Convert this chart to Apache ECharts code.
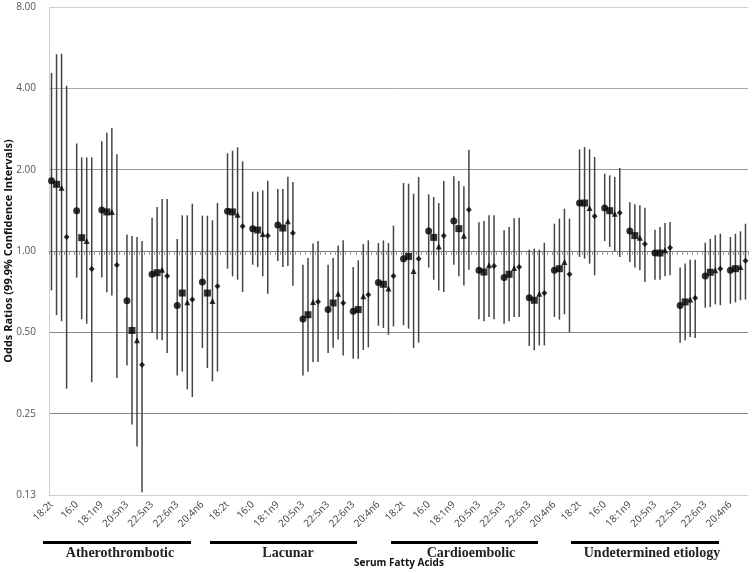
<!DOCTYPE html>
<html>
<head>
<meta charset="utf-8">
<script src="https://cdn.jsdelivr.net/npm/echarts@6/dist/echarts.min.js"></script>
<style>
html,body{margin:0;padding:0;background:#fff;}
#chart{width:752px;height:573px;}
</style>
</head>
<body>
<div id="chart"></div>
<script>
// ---- data ----
const groups = ['Atherothrombotic', 'Lacunar', 'Cardioembolic', 'Undetermined etiology'];
const acids = ['18:2t', '16:0', '18:1n9', '20:5n3', '22:5n3', '22:6n3', '20:4n6'];
const yTicks = [0.125, 0.25, 0.5, 1, 2, 4, 8];

// odds ratios per marker (28 = 4 groups x 7 acids, group order)
const orCircle = [1.82, 1.41, 1.418, 0.655, 0.82, 0.628, 0.768,
  1.402, 1.21, 1.248, 0.56, 0.608, 0.598, 0.764,
  0.937, 1.186, 1.291, 0.848, 0.797, 0.672, 0.848,
  1.505, 1.443, 1.186, 0.983, 0.628, 0.808, 0.848];
const loCircle = [0.715, 0.797, 0.797, 0.377, 0.497, 0.346, 0.437,
  0.86, 0.89, 0.918, 0.346, 0.419, 0.399, 0.529,
  0.531, 0.868, 0.89, 0.559, 0.538, 0.445, 0.57,
  0.95, 1.089, 0.911, 0.783, 0.458, 0.617, 0.638];
const hiCircle = [4.56, 2.50, 2.55, 1.15, 1.329, 1.108, 1.351,
  2.30, 1.659, 1.696, 0.89, 0.89, 0.872, 1.07,
  1.785, 1.621, 1.89, 1.277, 1.193, 1.011, 1.262,
  2.378, 1.933, 1.514, 1.199, 0.868, 1.073, 1.127];

const orSquare = [1.765, 1.12, 1.395, 0.508, 0.831, 0.699, 0.699,
  1.395, 1.196, 1.216, 0.581, 0.642, 0.607, 0.753,
  0.955, 1.123, 1.21, 0.836, 0.82, 0.657, 0.86,
  1.505, 1.41, 1.14, 0.983, 0.648, 0.834, 0.86];
const loSquare = [0.58, 0.559, 0.703, 0.228, 0.47, 0.358, 0.369,
  0.806, 0.872, 0.872, 0.357, 0.438, 0.399, 0.519,
  0.516, 0.783, 0.806, 0.549, 0.549, 0.429, 0.557,
  0.937, 1.035, 0.868, 0.783, 0.467, 0.62, 0.646];
const hiSquare = [5.35, 2.22, 2.74, 1.136, 1.455, 1.355, 1.351,
  2.35, 1.659, 1.696, 0.942, 0.942, 0.924, 1.095,
  1.775, 1.585, 1.816, 1.291, 1.227, 1.02, 1.317,
  2.426, 1.906, 1.488, 1.227, 0.898, 1.108, 1.159];

const orTriangle = [1.716, 1.089, 1.395, 0.467, 0.853, 0.646, 0.653,
  1.363, 1.156, 1.288, 0.648, 0.695, 0.68, 0.727,
  0.843, 1.04, 1.14, 0.885, 0.865, 0.695, 0.911,
  1.443, 1.375, 1.12, 1.006, 0.661, 0.848, 0.872];
const loTriangle = [0.549, 0.538, 0.685, 0.189, 0.467, 0.308, 0.329,
  0.783, 0.806, 0.88, 0.388, 0.47, 0.43, 0.49,
  0.438, 0.715, 0.746, 0.57, 0.57, 0.447, 0.583,
  0.898, 1.0, 0.848, 0.806, 0.481, 0.635, 0.657];
const hiTriangle = [5.37, 2.22, 2.85, 1.127, 1.557, 1.355, 1.299,
  2.42, 1.677, 1.884, 1.067, 1.047, 1.061, 1.07,
  1.63, 1.505, 1.735, 1.355, 1.321, 1.011, 1.434,
  2.378, 1.879, 1.476, 1.27, 0.929, 1.143, 1.182];

const orDiamond = [1.127, 0.858, 0.888, 0.379, 0.808, 0.661, 0.74,
  1.234, 1.14, 1.166, 0.649, 0.642, 0.689, 0.808,
  0.937, 1.14, 1.422, 0.88, 0.872, 0.699, 0.82,
  1.344, 1.386, 1.061, 1.029, 0.67, 0.86, 0.921];
const loDiamond = [0.309, 0.327, 0.339, 0.128, 0.419, 0.288, 0.358,
  0.705, 0.695, 0.744, 0.388, 0.41, 0.44, 0.526,
  0.458, 0.705, 0.853, 0.559, 0.57, 0.447, 0.5,
  0.813, 0.95, 0.768, 0.813, 0.476, 0.63, 0.661];
const hiDiamond = [4.09, 2.22, 2.28, 1.089, 1.557, 1.497, 1.505,
  2.147, 1.82, 1.80, 1.089, 1.095, 1.095, 1.241,
  1.879, 1.816, 2.372, 1.355, 1.329, 1.073, 1.317,
  2.228, 2.028, 1.447, 1.281, 0.929, 1.159, 1.262];

// ---- build ----
const SLOTS_PER_ACID = 5; // 4 markers + 1 spacer
const nAcid = groups.length * acids.length;
const nSlots = nAcid * SLOTS_PER_ACID - 1;
const categories = [];
for (let i = 0; i < nSlots; i++) {
  categories.push(i % SLOTS_PER_ACID === 0 ? acids[(i / SLOTS_PER_ACID) % acids.length] : '');
}

const markerDefs = [
  {name: 'circle', sym: 'circle', size: 7, or: orCircle, lo: loCircle, hi: hiCircle},
  {name: 'square', sym: 'rect', size: 7, or: orSquare, lo: loSquare, hi: hiSquare},
  {name: 'triangle', sym: 'triangle', size: 6, or: orTriangle, lo: loTriangle, hi: hiTriangle},
  {name: 'diamond', sym: 'diamond', size: 6, or: orDiamond, lo: loDiamond, hi: hiDiamond}
];

const series = [];
markerDefs.forEach((m, s) => {
  const errData = [], ptData = [];
  for (let a = 0; a < nAcid; a++) {
    const slot = a * SLOTS_PER_ACID + s;
    errData.push([slot, m.lo[a], m.hi[a]]);
    ptData.push([slot, m.or[a]]);
  }
  series.push({
    type: 'custom', name: m.name + ' CI', z: 2,
    encode: {x: 0, y: [1, 2]},
    data: errData,
    renderItem: function (params, api) {
      const p1 = api.coord([api.value(0), api.value(1)]);
      const p2 = api.coord([api.value(0), api.value(2)]);
      return {type: 'line', shape: {x1: p1[0], y1: p1[1], x2: p2[0], y2: p2[1]},
        style: {stroke: '#444', lineWidth: 1.5}};
    }
  });
  series.push({
    type: 'scatter', name: m.name, z: 3,
    symbol: m.sym, symbolSize: m.size,
    itemStyle: {color: '#000'},
    data: ptData
  });
});

const chart = echarts.init(document.getElementById('chart'), null, {renderer: 'canvas'});
const textFont = 'Open Sans';
chart.setOption({
  animation: false,
  grid: {left: 49, right: 4, top: 7, bottom: 78, containLabel: false, outerBoundsMode: 'none'},
  xAxis: [{
    type: 'category', data: categories, position: 'bottom',
    axisLine: {lineStyle: {color: '#cfcfcf', width: 1}},
    axisTick: {show: false},
    axisLabel: {interval: 0, rotate: 45, fontSize: 10, fontFamily: textFont, color: '#404040', margin: 8},
    splitLine: {show: false}
  }, {
    type: 'category', data: categories, position: 'bottom', offset: -244,
    axisLine: {lineStyle: {color: '#777', width: 1}},
    axisTick: {show: true, interval: 0, length: 4, lineStyle: {color: '#999'}},
    axisLabel: {show: false},
    splitLine: {show: false}
  }],
  yAxis: {
    type: 'log', logBase: 2, min: yTicks[0], max: yTicks[yTicks.length - 1],
    name: 'Odds Ratios (99.9% Confidence Intervals)', nameLocation: 'middle', nameGap: 35,
    nameMoveOverlap: false,
    nameTextStyle: {fontSize: 11, fontWeight: 'bold', fontFamily: textFont, color: '#111'},
    axisLine: {show: true, lineStyle: {color: '#cfcfcf'}},
    axisTick: {show: false},
    axisLabel: {fontSize: 10, fontFamily: textFont, color: '#555', margin: 13,
      formatter: v => Number(v).toFixed(2)},
    splitLine: {show: true, lineStyle: {color: ['#cfcfcf', '#888', '#888', '#888', '#999', '#aaa', '#cfcfcf']}}
  },
  series: series,
  graphic: [
    {type: 'rect', shape: {x: 43, y: 541, width: 148, height: 3}, style: {fill: '#000'}},
    {type: 'rect', shape: {x: 210, y: 541, width: 147, height: 3}, style: {fill: '#000'}},
    {type: 'rect', shape: {x: 391, y: 541, width: 147, height: 3}, style: {fill: '#000'}},
    {type: 'rect', shape: {x: 571, y: 541, width: 148, height: 3}, style: {fill: '#000'}},
    {type: 'text', x: 120, y: 553, style: {text: groups[0], font: 'bold 14px "Liberation Serif"', fill: '#222', textAlign: 'center', textVerticalAlign: 'middle'}},
    {type: 'text', x: 288, y: 553, style: {text: groups[1], font: 'bold 14px "Liberation Serif"', fill: '#222', textAlign: 'center', textVerticalAlign: 'middle'}},
    {type: 'text', x: 471, y: 553, style: {text: groups[2], font: 'bold 14px "Liberation Serif"', fill: '#222', textAlign: 'center', textVerticalAlign: 'middle'}},
    {type: 'text', x: 652, y: 553, style: {text: groups[3], font: 'bold 14px "Liberation Serif"', fill: '#222', textAlign: 'center', textVerticalAlign: 'middle'}},
    {type: 'text', x: 399, y: 563, style: {text: 'Serum Fatty Acids', font: 'bold 10px "Open Sans"', fill: '#111', textAlign: 'center', textVerticalAlign: 'middle'}}
  ]
});
</script>
</body>
</html>
